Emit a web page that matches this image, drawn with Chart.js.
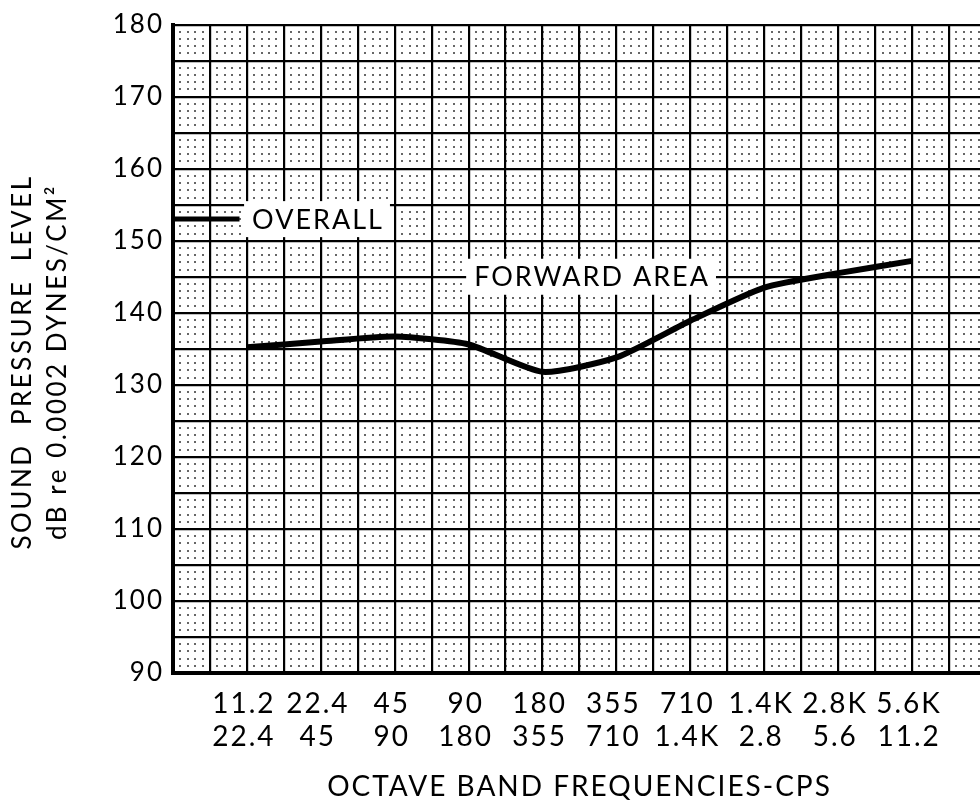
<!DOCTYPE html>
<html lang="en">
  <head>
    <meta charset="UTF-8" />
    <title>Octave band sound pressure level - forward area</title>
    <script src="https://cdn.jsdelivr.net/npm/chart.js@4.4.0/dist/chart.umd.min.js"></script>
    <style>
      body { margin: 0; background: #fff; overflow: hidden; }
      .chart { width: 980px; height: 806px; overflow: hidden; }
    </style>
  </head>
  <body>
    <div class="chart">
      <canvas id="myChart" width="1000" height="806"></canvas>
    </div>
    <script>
      // octave bands, lower and upper edge (cps)
      const bandLow = ['11.2', '22.4', '45', '90', '180', '355', '710', '1.4K', '2.8K', '5.6K'];
      const bandHigh = ['22.4', '45', '90', '180', '355', '710', '1.4K', '2.8', '5.6', '11.2'];
      // sound pressure level, dB re 0.0002 dynes/cm2
      const forwardArea = [135.2, 136.0, 136.7, 135.6, 131.8, 133.8, 138.9, 143.5, 145.5, 147.2];
      const overall = [153];
      const yLabels = [90, 100, 110, 120, 130, 140, 150, 160, 170, 180];

      const font = 'Lato';

      // wider lettering, like the stencil lettering of the original
      const spacing = {
        id: 'spacing',
        beforeDraw(chart) { chart.ctx.letterSpacing = '2px'; }
      };

      // fine dotted ruling of the graph paper
      const paperDots = {
        id: 'paperDots',
        beforeDatasetsDraw(chart) {
          const { ctx, scales: { x, y } } = chart;
          ctx.save();
          ctx.fillStyle = 'rgba(0,0,0,0.6)';
          for (let i = -10; i <= 100; i++) {
            const px = x.getPixelForValue(i / 10);
            for (let j = 90; j <= 180; j++) {
              const py = y.getPixelForValue(j);
              ctx.fillRect(Math.round(px) - 1, Math.round(py) - 1, 2, 2);
            }
          }
          ctx.restore();
        }
      };

      // curve labels on white patches, and the two-line y title
      const notes = {
        id: 'notes',
        beforeDatasetsDraw(chart) {
          const { ctx, scales: { x, y } } = chart;
          ctx.save();
          ctx.font = '27px ' + font;
          ctx.textBaseline = 'middle';

          const label = (text, xv, yv, align) => {
            const w = ctx.measureText(text).width;
            const px = x.getPixelForValue(xv);
            const py = y.getPixelForValue(yv);
            const left = align === 'left' ? px : px - w / 2;
            ctx.fillStyle = '#fff';
            ctx.fillRect(left - 8, py - 18, w + 14, 36);
            ctx.fillStyle = '#000';
            ctx.textAlign = 'left';
            ctx.fillText(text, left, py + 1);
          };
          label('OVERALL', 0.07, overall[0], 'left');
          label('FORWARD AREA', 4.67, 145, 'center');

          ctx.font = '26px ' + font;
          ctx.letterSpacing = '2.5px';
          ctx.textAlign = 'center';
          ctx.translate(0, 362);
          ctx.rotate(-Math.PI / 2);
          ctx.fillText('SOUND  PRESSURE  LEVEL', 0, 23);
          ctx.fillText('dB re 0.0002 DYNES/CM\u00B2', 0, 58);
          ctx.restore();
        }
      };

      const ctx = document.getElementById('myChart').getContext('2d');
      const myChart = new Chart(ctx, {
        type: 'line',
        data: {
          datasets: [
            {
              label: 'FORWARD AREA',
              data: forwardArea.map((v, i) => ({ x: i, y: v })),
              borderColor: '#000',
              borderWidth: 6,
              tension: 0.2,
              pointRadius: 0,
              fill: false
            },
            {
              label: 'OVERALL',
              data: [{ x: -1, y: overall[0] }, { x: -0.1, y: overall[0] }],
              borderColor: '#000',
              borderWidth: 5,
              pointRadius: 0,
              fill: false
            }
          ]
        },
        options: {
          responsive: false,
          animation: false,
          devicePixelRatio: 1,
          layout: { padding: { top: 16, right: 5, left: 0, bottom: 0 } },
          plugins: { legend: { display: false }, tooltip: { enabled: false } },
          scales: {
            x: {
              type: 'linear',
              min: -1,
              max: 10,
              afterFit: s => { s.height = 133; },
              grid: { color: '#000', lineWidth: 2.2, drawTicks: false },
              border: { color: '#000', width: 4 },
              ticks: {
                stepSize: 0.5,
                autoSkip: false,
                maxRotation: 0,
                padding: 14,
                labelOffset: -3,
                color: '#000',
                font: { family: font, size: 28 },
                callback: v => (Number.isInteger(v) && v >= 0 && v < bandLow.length) ? [bandLow[v], bandHigh[v]] : ''
              },
              title: {
                display: true,
                text: 'OCTAVE BAND FREQUENCIES-CPS',
                color: '#000',
                font: { family: font, size: 28 },
                padding: { top: 0, bottom: 2 }
              }
            },
            y: {
              min: 90,
              max: 180,
              afterFit: s => { s.width = 173; },
              grid: { color: '#000', lineWidth: 2.2, drawTicks: false },
              border: { color: '#000', width: 4 },
              ticks: {
                stepSize: 5,
                padding: 9,
                color: '#000',
                font: { family: font, size: 26 },
                callback: v => yLabels.includes(v) ? String(v) : ''
              }
            }
          }
        },
        plugins: [spacing, paperDots, notes]
      });
    </script>
  </body>
</html>
